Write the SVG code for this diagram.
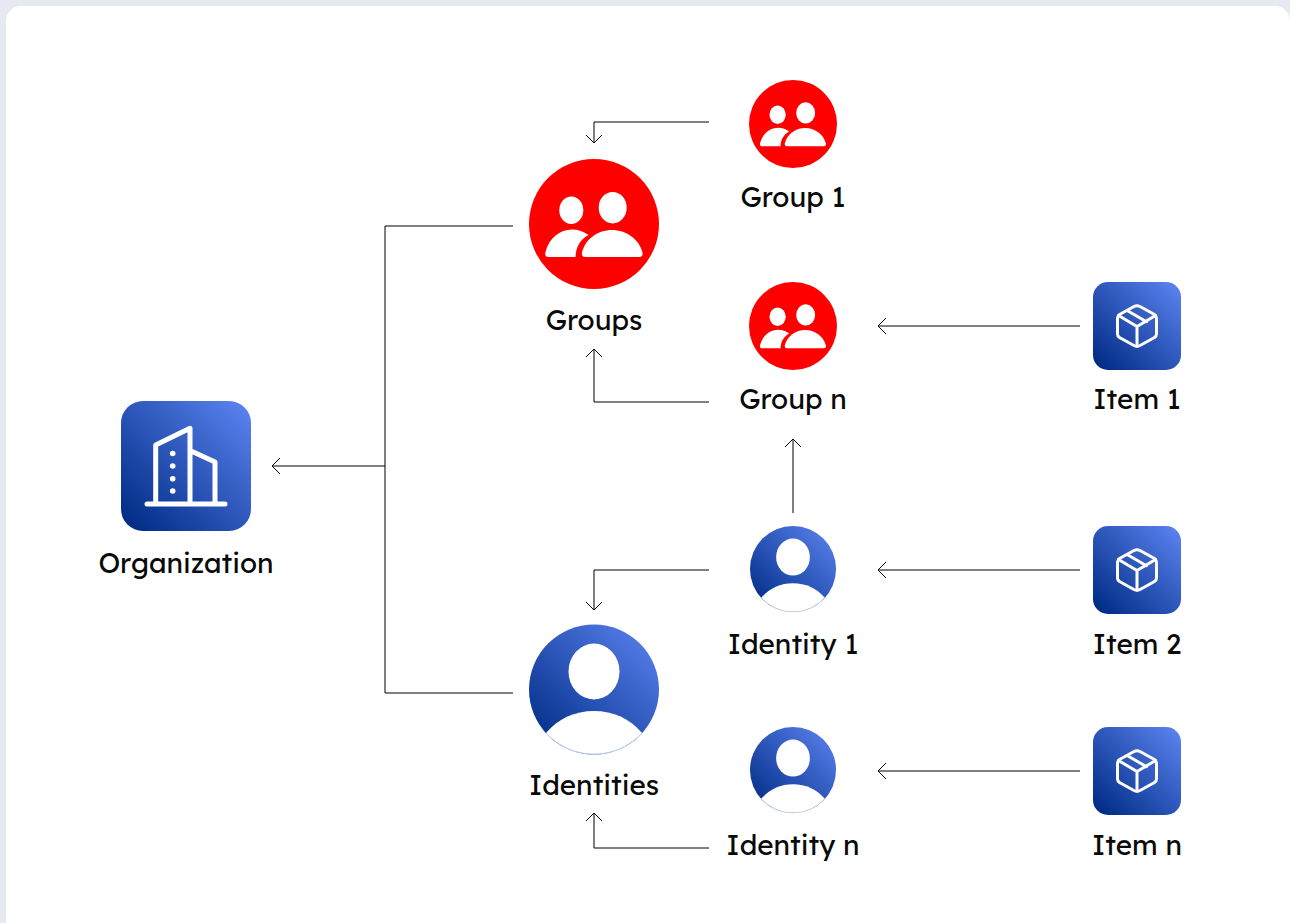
<svg xmlns="http://www.w3.org/2000/svg" width="1290" height="923" viewBox="0 0 1290 923">
<style>
.t{font-family:"Lexend","Outfit","Inter","Noto Sans",sans-serif;font-size:27.800px;font-weight:420;fill:#0a0a0a;text-anchor:middle}
.c{fill:none;stroke:#000;stroke-width:1}
.w{fill:none;stroke:#fff;stroke-linecap:round;stroke-linejoin:round}
</style>
<defs>
<linearGradient id="g" x1="0" y1="1" x2="1" y2="0"><stop offset="0.05" stop-color="#002c86"/><stop offset="1" stop-color="#5e85f2"/></linearGradient>
<marker id="a" viewBox="0 0 18 18" refX="17" refY="9" markerWidth="18" markerHeight="18" markerUnits="userSpaceOnUse" orient="auto"><path d="M9,1 L17,9 L9,17" fill="none" stroke="#000" stroke-width="1"/></marker>
<g id="grp">
<circle r="65" fill="#ff0000"/>
<ellipse cx="-22.7" cy="-13.7" rx="12" ry="13.7" fill="#fff"/>
<ellipse cx="18.7" cy="-16.3" rx="14" ry="15.7" fill="#fff"/>
<path d="M-46,33 C-48,33 -49.500,31 -48.500,28 C-45,14 -34,5.500 -22,5.500 C-16,5.500 -10,7.500 -5.500,11 C-13,15 -18,22 -18.500,33 Z" fill="#fff"/>
<path d="M-9,33 C-11.500,33 -12.500,31 -12,28.500 C-9,15 4,6 18,6 C32,6 45,15 48.500,28.500 C49,31 48,33 45.500,33 Z" fill="#fff"/>
</g>
<g id="idn">
<circle r="65" fill="url(#g)"/>
<ellipse cx="0" cy="-18" rx="25.500" ry="28" fill="#fff"/>
<path d="M-48,43.500 C-36,29 -19,21.500 0,21.500 C19,21.500 36,29 48,43.500 A65,65 0 0 1 -48,43.500 Z" fill="#fff"/>
<path d="M-48,43.500 A65,65 0 0 0 48,43.500" fill="none" stroke="#bccbef" stroke-width="1"/>
</g>
<g id="box">
<rect x="-44" y="-44" width="88" height="88" rx="15" fill="url(#g)"/>
<path class="w" stroke-width="3" d="M-3,-19.500 Q0,-21 3,-19.500 L17.500,-11.500 Q19.500,-10 19.500,-8 V8 Q19.500,10 17.500,11.500 L3,19.500 Q0,21 -3,19.500 L-17.500,11.500 Q-19.500,10 -19.500,8 V-8 Q-19.500,-10 -17.500,-11.500 Z"/>
<path class="w" stroke-width="3" d="M-18.500,-10.500 L0,0.500 L18.500,-10.500 M0,0.500 V20 M-9.500,-15.300 L9.500,-4.300"/>
</g>
</defs>
<rect width="1290" height="923" fill="#e6e9f1"/>
<rect x="6" y="6" width="1284" height="950" rx="15" fill="#fff"/>
<g id="connectors" class="c">
<path class="c" d="M513,226 H385 V693 H513"/>
<path class="c" marker-end="url(#a)" d="M385,466 H272"/>
<path class="c" marker-end="url(#a)" d="M709,122 H594 V143"/>
<path class="c" marker-end="url(#a)" d="M709,402 H594 V349"/>
<path class="c" marker-end="url(#a)" d="M1080,326 H878"/>
<path class="c" marker-end="url(#a)" d="M793,513 V439"/>
<path class="c" marker-end="url(#a)" d="M1080,570 H878"/>
<path class="c" marker-end="url(#a)" d="M709,570 H594 V610"/>
<path class="c" marker-end="url(#a)" d="M1080,771 H878"/>
<path class="c" marker-end="url(#a)" d="M709,848 H594 V813"/>
</g>
<g id="organization">
<rect x="121" y="401" width="130" height="130" rx="22" fill="url(#g)"/>
<path class="w" stroke-width="5" d="M147,504 H225 M155.700,504 V445 L190,428.300 V504 M190,450.500 L215,462 V504"/>
<g fill="#fff"><circle cx="172.700" cy="453.500" r="2.800"/><circle cx="172.700" cy="466" r="2.800"/><circle cx="172.700" cy="478.700" r="2.800"/><circle cx="172.700" cy="491" r="2.800"/></g>
<text class="t" x="186" y="573">Organization</text>
</g>
<g id="groups"><use href="#grp" x="594" y="224"/><text class="t" x="594" y="330">Groups</text></g>
<g id="group-1"><use href="#grp" transform="translate(793 124) scale(.677)"/><text class="t" x="793" y="207">Group 1</text></g>
<g id="group-n"><use href="#grp" transform="translate(793 326) scale(.677)"/><text class="t" x="793" y="409">Group n</text></g>
<g id="identities"><use href="#idn" x="594" y="689.500"/><text class="t" x="594" y="795">Identities</text></g>
<g id="identity-1"><use href="#idn" transform="translate(793 569) scale(.662)"/><text class="t" x="793" y="654">Identity 1</text></g>
<g id="identity-n"><use href="#idn" transform="translate(793 770) scale(.662)"/><text class="t" x="793" y="855">Identity n</text></g>
<g id="item-1"><use href="#box" x="1137" y="326"/><text class="t" x="1137" y="409">Item 1</text></g>
<g id="item-2"><use href="#box" x="1137" y="570"/><text class="t" x="1137" y="654">Item 2</text></g>
<g id="item-n"><use href="#box" x="1137" y="771"/><text class="t" x="1137" y="855">Item n</text></g>
</svg>
